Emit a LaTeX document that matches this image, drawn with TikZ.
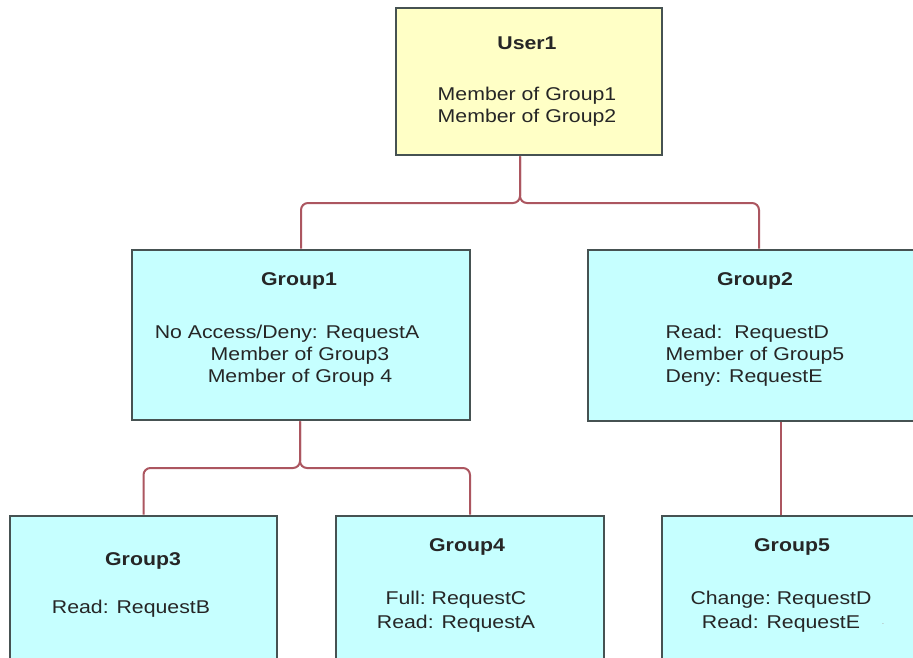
\documentclass[tikz,border=0pt]{standalone}
\usepackage{fontspec}
\setmainfont{Liberation Sans}[FakeStretch=1.15]
\usepackage{tikz}
\usetikzlibrary{%
  calc,%
  positioning%
}
\definecolor{userfill}{RGB}{255,255,198}
\definecolor{groupfill}{RGB}{198,255,255}
\definecolor{boxline}{RGB}{70,82,82}
\definecolor{linkline}{RGB}{172,86,96}
\tikzset{x=1pt, y=-1pt,
    box/.style = {draw=boxline, line width=2.8pt, inner sep=0pt},
    userbox/.style = {box, fill=userfill},
    groupbox/.style = {box, fill=groupfill},
    title/.style = {inner sep=0pt, font=\fontsize{18.5}{22}\selectfont\bfseries, text=black!85},
    body/.style = {inner sep=0pt, align=center, font=\fontsize{18.5}{22}\selectfont, text=black!85},
    link/.style = {draw=linkline, line width=2pt, rounded corners=7pt}}

\begin{document}
\begin{tikzpicture}
    \useasboundingbox (0,0) rectangle (913,657);
    \fill[white] (0,0) rectangle (913,657);
    \clip (0,0) rectangle (913,657);
    \node[userbox, minimum width=266pt, minimum height=147pt] (user1) at (529,81.5) {};
    \node[groupbox, minimum width=338pt, minimum height=170pt] (group1) at (301,335) {};
    \node[groupbox, minimum width=342pt, minimum height=171pt] (group2) at (759,335.5) {};
    \node[groupbox, minimum width=267pt, minimum height=184pt] (group3) at (143.5,608) {};
    \node[groupbox, minimum width=268pt, minimum height=184pt] (group4) at (470,608) {};
    \node[groupbox, minimum width=268pt, minimum height=184pt] (group5) at (796,608) {};
    \coordinate (split1) at (520,203);
    \coordinate (split2) at (300,468);
    \coordinate (down5) at (781,468);
    \draw[link] (user1.south -| split1) -- (split1) -| (group1.north);
    \draw[link] (user1.south -| split1) -- (split1) -| (group2.north);
    \draw[link] (group1.south -| split2) -- (split2) -| (group3.north);
    \draw[link] (group1.south -| split2) -- (split2) -| (group4.north);
    \draw[link] (group2.south -| down5) -- (group5.north -| down5);
    \node[title] (user1 title) at (527,43) {User1};
    \node[body] (user1 text) at (527,107) {Member of Group1\\Member of Group2};
    \node[title] (group1 title) at (299,281) {Group1};
    \node[body] (group1 text) at (300,356) {No Access/Deny: RequestA\hspace*{26pt}\\Member of Group3\\Member of Group 4};
    \node[title] (group2 title) at (755,281) {Group2};
    \node[body, align=left] (group2 text) at (755,356) {Read:\ \ RequestD\\Member of Group5\\Deny: RequestE};
    \node[title] (group3 title) at (143,561) {Group3};
    \node[body] (group3 text) at (131,609) {Read: RequestB};
    \node[title] (group4 title) at (467,547) {Group4};
    \node[body, font=\fontsize{18.5}{24}\selectfont] (group4 text) at (456,612) {Full:\ RequestC\\Read: RequestA};
    \node[title] (group5 title) at (792,547) {Group5};
    \node[body, font=\fontsize{18.5}{24}\selectfont] (group5 text) at (781,612) {Change:\ RequestD\\Read: RequestE};
    \node[inner sep=0pt, text=black!30, font=\small] (group5 dot) at (883,624) {.};
\end{tikzpicture}
\end{document}
